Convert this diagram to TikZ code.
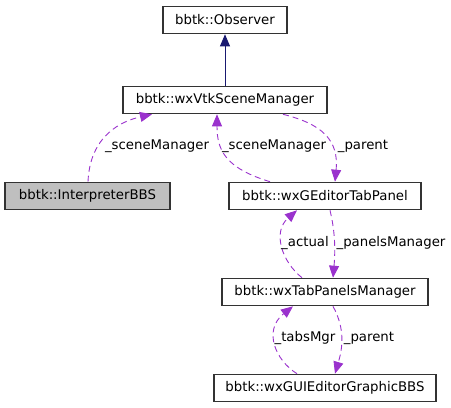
\documentclass[tikz,border=0pt]{standalone}
\usepackage{xcolor}
\usepackage{fontspec}
\setmainfont{DejaVu Sans}
\usepackage{tikz}
\usetikzlibrary{arrows.meta}

\definecolor{usesline}{HTML}{9A32CD}
\definecolor{inheritline}{HTML}{191970}
\definecolor{focusfill}{HTML}{BFBFBF}

\begin{document}
\begin{tikzpicture}[
        x=1pt,
        y=-1pt,
        font=\fontsize{13.3}{16}\selectfont,
        class/.style={
            rectangle,
            draw=black!80,
            line width=1.1pt,
            fill=white,
            text centered,
            inner sep=0pt,
            minimum height=27.5pt
        },
        inherit/.style={
            draw=inheritline,
            line width=0.9pt,
            -{Triangle[length=12pt,width=10pt]}
        },
        uses/.style={
            draw=usesline,
            line width=0.9pt,
            dash pattern=on 6pt off 4pt,
            -{Triangle[length=12pt,width=10pt]}
        },
        role/.style={
            inner sep=0pt
        },
        ]

        \useasboundingbox (0,0) rectangle (451,408);

        \node [class,minimum width=124pt] (observer) at (225,20) {bbtk::Observer};
        \node [class,minimum width=204pt] (scene-manager) at (225,100) {bbtk::wxVtkSceneManager};
        \node [class,fill=focusfill,minimum width=165pt] (interpreter) at (87.5,196) {bbtk::InterpreterBBS};
        \node [class,minimum width=192pt] (tab-panel) at (325,196) {bbtk::wxGEditorTabPanel};
        \node [class,minimum width=206pt] (panels-manager) at (325,292) {bbtk::wxTabPanelsManager};
        \node [class,minimum width=222pt] (graphic-bbs) at (325,388) {bbtk::wxGUIEditorGraphicBBS};

        \path [inherit] (scene-manager) -- (observer);

        \path [uses] ([xshift=0.5pt]interpreter.north) .. controls (90,135) and (122,121) .. ([xshift=-73pt]scene-manager.south);
        \path [uses] ([xshift=-55pt]tab-panel.north) .. controls (225,168) and (217,150) .. ([xshift=-8pt]scene-manager.south);
        \path [uses] ([xshift=58pt]scene-manager.south) .. controls (322,124) and (339,140) .. ([xshift=10pt]tab-panel.north);
        \path [uses] ([xshift=-23pt]panels-manager.north) .. controls (282,262) and (272,232) .. ([xshift=-28pt]tab-panel.south);
        \path [uses] ([xshift=5pt]tab-panel.south) .. controls (336,235) and (335,255) .. ([xshift=8pt]panels-manager.north);
        \path [uses] ([xshift=-28pt]graphic-bbs.north) .. controls (275,360) and (263,330) .. ([xshift=-32pt]panels-manager.south);
        \path [uses] ([xshift=8pt]panels-manager.south) .. controls (346,330) and (342,350) .. ([xshift=10pt]graphic-bbs.north);

        \node [role] (interp-role) at (157,146) {\_sceneManager};
        \node [role] (panel-role) at (274,146) {\_sceneManager};
        \node [role] (parent-role) at (363,146) {\_parent};
        \node [role] (actual-role) at (305,243) {\_actual};
        \node [role] (panels-role) at (391,243) {\_panelsManager};
        \node [role] (tabs-role) at (305,338) {\_tabsMgr};
        \node [role] (graphic-role) at (369,338) {\_parent};
    \end{tikzpicture}
\end{document}
